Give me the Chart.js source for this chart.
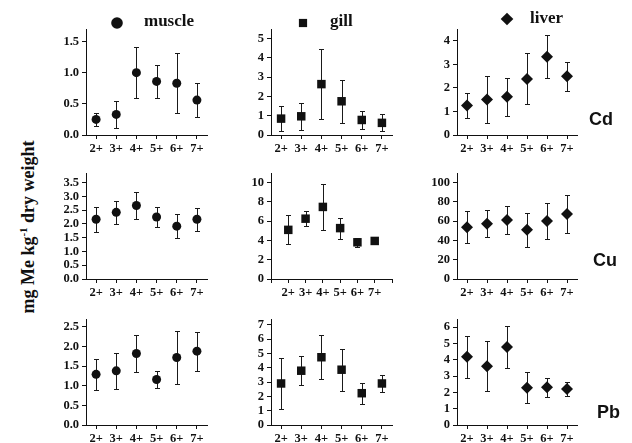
<!DOCTYPE html>
<html>
<head>
<meta charset="utf-8">
<script src="https://cdn.jsdelivr.net/npm/chart.js@4.4.1/dist/chart.umd.min.js"></script>
<style>
  body { margin: 0; background: #fff; }
  #wrap { position: relative; width: 632px; height: 443px; overflow: hidden; background: #fff; }
  #wrap canvas { position: absolute; }
  #ytitle {
    position: absolute; left: 28px; top: 227px;
    transform: translate(-50%, -50%) rotate(-90deg);
    font: bold 18px "Liberation Serif", serif; white-space: nowrap; color: #111;
  }
  #ytitle sup { font-size: 11px; }
</style>
</head>
<body>
<div id="wrap">
  <div id="ytitle">mg Me kg<sup>-1</sup> dry weight</div>
</div>
<script>
// age classes on the x axis
const ages = ["2+", "3+", "4+", "5+", "6+", "7+"];
const tissues = ["muscle", "gill", "liver"];
const metals = ["Cd", "Cu", "Pb"];

// means and error (sd)
const cdMuscle = [0.25, 0.33, 1.00, 0.86, 0.83, 0.56];
const cdMuscleSd = [0.10, 0.21, 0.41, 0.26, 0.48, 0.27];
const cdGill = [0.85, 0.97, 2.64, 1.75, 0.78, 0.63];
const cdGillSd = [0.66, 0.70, 1.82, 1.12, 0.45, 0.44];
const cdLiver = [1.25, 1.51, 1.62, 2.38, 3.32, 2.49];
const cdLiverSd = [0.53, 0.98, 0.80, 1.08, 0.91, 0.62];

const cuMuscle = [2.17, 2.42, 2.67, 2.25, 1.92, 2.17];
const cuMuscleSd = [0.45, 0.43, 0.50, 0.37, 0.43, 0.41];
const cuGill = [5.10, 6.26, 7.48, 5.28, 3.81, 3.95];
const cuGillSd = [1.50, 0.77, 2.36, 1.10, 0.45, 0.10];
const cuLiver = [53.8, 57.3, 61.2, 51.0, 60.1, 67.5];
const cuLiverSd = [16.6, 14.2, 14.3, 18.0, 19.0, 20.0];

const pbMuscle = [1.29, 1.38, 1.82, 1.16, 1.72, 1.88];
const pbMuscleSd = [0.40, 0.46, 0.48, 0.21, 0.68, 0.50];
const pbGill = [2.90, 3.79, 4.73, 3.86, 2.22, 2.90];
const pbGillSd = [1.80, 1.03, 1.54, 1.48, 0.72, 0.60];
const pbLiver = [4.18, 3.61, 4.78, 2.29, 2.31, 2.20];
const pbLiverSd = [1.30, 1.53, 1.28, 0.93, 0.60, 0.43];

// y tick labels per panel
const cdMuscleTicks = [0, 0.5, 1.0, 1.5];
const cdGillTicks = [0, 1, 2, 3, 4, 5];
const cdLiverTicks = [0, 1, 2, 3, 4];
const cuMuscleTicks = [0, 0.5, 1.0, 1.5, 2.0, 2.5, 3.0, 3.5];
const cuGillTicks = [0, 2, 4, 6, 8, 10];
const cuLiverTicks = [0, 20, 40, 60, 80, 100];
const pbMuscleTicks = [0, 0.5, 1.0, 1.5, 2.0, 2.5];
const pbGillTicks = [0, 1, 2, 3, 4, 5, 6, 7];
const pbLiverTicks = [0, 1, 2, 3, 4, 5, 6];

const panels = [
  { row: 0, col: 0, mean: cdMuscle, sd: cdMuscleSd, ticks: cdMuscleTicks, yMax: 1.7 },
  { row: 0, col: 1, mean: cdGill, sd: cdGillSd, ticks: cdGillTicks, yMax: 5.5 },
  { row: 0, col: 2, mean: cdLiver, sd: cdLiverSd, ticks: cdLiverTicks, yMax: 4.5 },
  { row: 1, col: 0, mean: cuMuscle, sd: cuMuscleSd, ticks: cuMuscleTicks, yMax: 3.85 },
  { row: 1, col: 1, mean: cuGill, sd: cuGillSd, ticks: cuGillTicks, yMax: 11, wide: true },
  { row: 1, col: 2, mean: cuLiver, sd: cuLiverSd, ticks: cuLiverTicks, yMax: 110 },
  { row: 2, col: 0, mean: pbMuscle, sd: pbMuscleSd, ticks: pbMuscleTicks, yMax: 2.7 },
  { row: 2, col: 1, mean: pbGill, sd: pbGillSd, ticks: pbGillTicks, yMax: 7.4 },
  { row: 2, col: 2, mean: pbLiver, sd: pbLiverSd, ticks: pbLiverTicks, yMax: 6.5 },
];

// layout of the plot areas (page pixels)
const colLeft = [86, 271, 457];
const colRight = [207, 392, 577];
const rowTop = [29, 173, 319];
const rowBottom = [135, 279, 425];
const markerStyle = ["circle", "rect", "rectRot"];
const markerSize = [4.5, 6, 6];
const keyPos = [
  { mx: 117, my: 23, r: 5.8, tx: 144, ty: 22 },
  { mx: 303, my: 23, r: 5.8, tx: 330, ty: 22 },
  { mx: 507, my: 19, r: 6.3, tx: 530, ty: 19 },
];
const metalPos = [
  { x: 589, y: 120 },
  { x: 593, y: 261 },
  { x: 597, y: 413 },
];

const serif = "'Liberation Serif', 'Times New Roman', serif";
const AXIS_W = 55;
const AXIS_H = 26;

function drawMarker(ctx, style, x, y, r) {
  ctx.beginPath();
  if (style === "circle") {
    ctx.arc(x, y, r, 0, Math.PI * 2);
  } else if (style === "rect") {
    const s = r * Math.SQRT1_2;
    ctx.rect(x - s, y - s, 2 * s, 2 * s);
  } else {
    ctx.moveTo(x, y - r);
    ctx.lineTo(x + r, y);
    ctx.lineTo(x, y + r);
    ctx.lineTo(x - r, y);
    ctx.closePath();
  }
  ctx.fill();
}

const errorBars = {
  id: "errorBars",
  beforeDatasetsDraw(chart, args, opts) {
    const { ctx } = chart;
    const xs = chart.scales.x, ys = chart.scales.y;
    const data = chart.data.datasets[0].data;
    ctx.save();
    ctx.strokeStyle = "#1a1a1a";
    ctx.lineWidth = 1;
    data.forEach((pt, i) => {
      const e = opts.sd[i];
      const px = Math.round(xs.getPixelForValue(pt.x)) + 0.5;
      const top = Math.round(ys.getPixelForValue(pt.y + e)) + 0.5;
      const bot = Math.round(ys.getPixelForValue(pt.y - e)) + 0.5;
      ctx.beginPath();
      ctx.moveTo(px, top); ctx.lineTo(px, bot);
      ctx.moveTo(px - 2.5, top); ctx.lineTo(px + 2.5, top);
      ctx.moveTo(px - 2.5, bot); ctx.lineTo(px + 2.5, bot);
      ctx.stroke();
    });
    ctx.restore();
  },
};

// tissue key at the top and metal name at the right, drawn in the chart canvas
const panelLabels = {
  id: "panelLabels",
  afterDraw(chart, args, opts) {
    const { ctx } = chart;
    ctx.save();
    ctx.fillStyle = "#111";
    if (opts.key) {
      const k = opts.key;
      drawMarker(ctx, opts.style, k.mx - opts.ox, k.my - opts.oy, k.r);
      ctx.font = "bold 17px " + serif;
      ctx.textBaseline = "middle";
      ctx.fillText(opts.tissue, k.tx - opts.ox, k.ty - opts.oy);
    }
    if (opts.metal) {
      ctx.font = "bold 18px 'Liberation Sans', Arial, sans-serif";
      ctx.textBaseline = "middle";
      ctx.fillText(opts.metal, opts.metal.x - opts.ox, opts.metal.y - opts.oy);
    }
    ctx.restore();
  },
};

function createPanel(p) {
  const topPad = p.row === 0 ? rowTop[0] : 12;
  const rightPad = p.col === 2 ? 632 - colRight[2] : 6;
  const left = colLeft[p.col] - AXIS_W;
  const top = rowTop[p.row] - topPad;
  const width = colRight[p.col] + rightPad - left;
  const height = rowBottom[p.row] + AXIS_H - top;

  const canvas = document.createElement("canvas");
  canvas.width = width;
  canvas.height = height;
  canvas.style.left = left + "px";
  canvas.style.top = top + "px";
  document.getElementById("wrap").appendChild(canvas);

  const xTicks = p.wide ? [0, 1, 2, 3, 4, 5, 6, 7] : [1, 2, 3, 4, 5, 6];
  const decimals = p.col === 0 ? 1 : 0;
  const tickFont = { family: serif, weight: "bold", size: 12.5 };
  const axisGrid = { display: true, drawOnChartArea: false, drawTicks: true, tickLength: 4, color: "#111", lineWidth: 1 };

  const style = markerStyle[p.col];
  const metal = p.col === 2 ? { x: metalPos[p.row].x, y: metalPos[p.row].y } : null;

  new Chart(canvas, {
    type: "scatter",
    data: {
      datasets: [
        {
          data: p.mean.map((v, i) => ({ x: i + 1, y: v })),
          pointStyle: style,
          pointRadius: markerSize[p.col],
          pointHoverRadius: markerSize[p.col],
          backgroundColor: "#111",
          borderColor: "#111",
          borderWidth: 0,
          clip: false,
        },
      ],
    },
    options: {
      responsive: false,
      animation: false,
      events: [],
      layout: { padding: { top: topPad, right: rightPad, left: 0, bottom: 0 } },
      plugins: {
        legend: { display: false },
        tooltip: { enabled: false },
        errorBars: { sd: p.sd },
        panelLabels: {
          ox: left,
          oy: top,
          key: p.row === 0 ? keyPos[p.col] : null,
          tissue: tissues[p.col],
          style,
          metal: metal ? Object.assign(metal, { toString: () => metals[p.row] }) : null,
        },
      },
      scales: {
        x: {
          type: "linear",
          min: p.wide ? 0 : 0.5,
          max: p.wide ? 7 : 6.5,
          grid: axisGrid,
          border: { display: true, color: "#111", width: 1 },
          afterBuildTicks: (axis) => { axis.ticks = xTicks.map((v) => ({ value: v })); },
          afterFit: (axis) => { axis.height = AXIS_H; },
          ticks: {
            font: tickFont,
            color: "#111",
            padding: 2,
            maxRotation: 0,
            autoSkip: false,
            callback: (v) => ages[v - 1] || "",
          },
        },
        y: {
          min: 0,
          max: p.yMax,
          grid: axisGrid,
          border: { display: true, color: "#111", width: 1 },
          afterBuildTicks: (axis) => { axis.ticks = p.ticks.map((v) => ({ value: v })); },
          afterFit: (axis) => { axis.width = AXIS_W; },
          ticks: {
            font: tickFont,
            color: "#111",
            padding: 3,
            autoSkip: false,
            callback: (v) => Number(v).toFixed(decimals),
          },
        },
      },
    },
    plugins: [errorBars, panelLabels],
  });
}

panels.forEach(createPanel);
</script>
</body>
</html>
